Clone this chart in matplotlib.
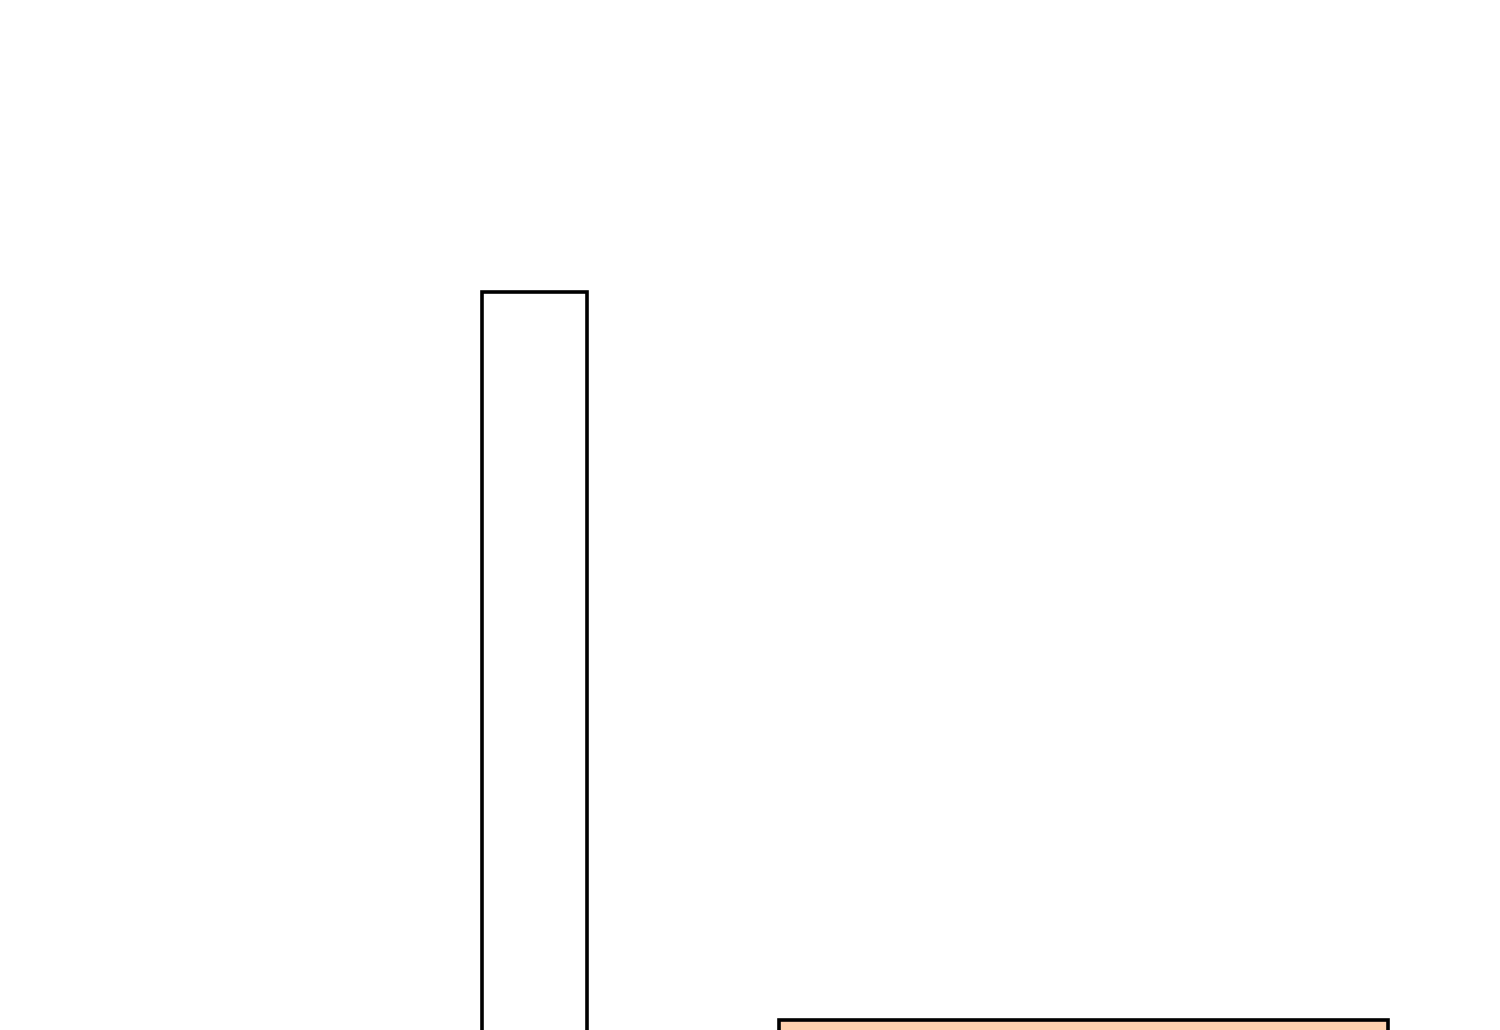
import matplotlib
matplotlib.use('Agg')
import matplotlib.pyplot as plt

# bar data (visible part of a cropped bar chart)
categories = ['A', 'B']
values = [738, 10]
positions = [534.5, 1083.5]
widths = [105, 609]
colors = ['#ffffff', '#ffd1ae']

fig = plt.figure(figsize=(15, 10.3), dpi=100)
ax = fig.add_axes([0, 0, 1, 1])

ax.bar(positions, [v + 40 for v in values], bottom=-40, width=widths,
       color=colors, edgecolor='black', linewidth=2.6)

ax.set_xlim(0, 1500)
ax.set_ylim(0, 1030)
ax.axis('off')

fig.savefig('out.png', dpi=100, facecolor='white')
